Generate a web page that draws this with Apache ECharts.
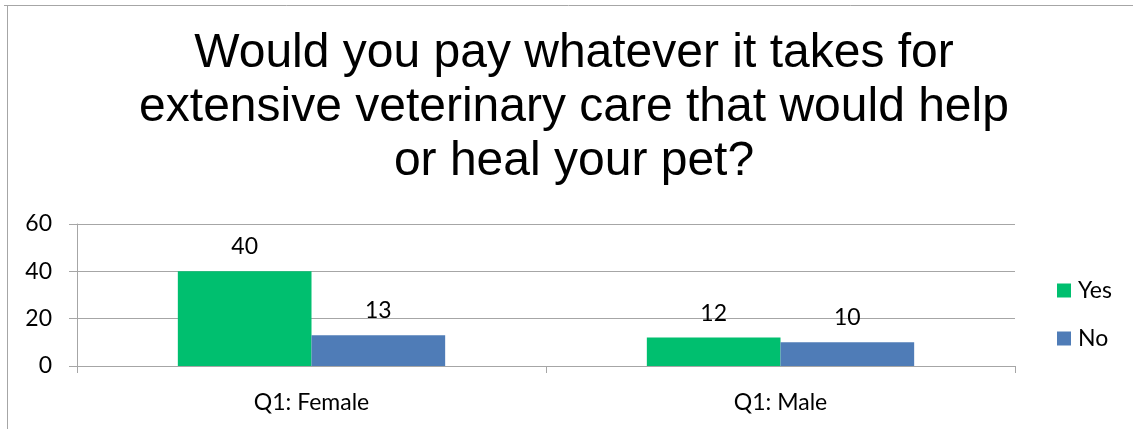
<!DOCTYPE html>
<html>
<head>
<meta charset="utf-8">
<script src="https://cdn.jsdelivr.net/npm/echarts@6/dist/echarts.min.js"></script>
<style>
  html, body { margin: 0; padding: 0; background: #fff; }
  #chart { width: 1133px; height: 429px; }
</style>
</head>
<body>
<div id="chart"></div>
<script>
// Survey answers by respondent group
const categories = ['Q1: Female', 'Q1: Male'];
const yesValues = [40, 12];
const noValues = [13, 10];
const yTicks = [0, 20, 40, 60];

const chart = echarts.init(document.getElementById('chart'));
const labelFont = 'Lato, "Open Sans", sans-serif';
const gridColor = '#a6a6a6';

chart.setOption({
  animation: false,
  backgroundColor: '#ffffff',
  title: {
    text: 'Would you pay whatever it takes for\nextensive veterinary care that would help\nor heal your pet?',
    left: 574,
    textAlign: 'center',
    top: 27,
    padding: 0,
    textStyle: {
      fontFamily: '"Liberation Sans", Arial, sans-serif',
      fontSize: 48,
      fontWeight: 'normal',
      color: '#000',
      lineHeight: 54
    }
  },
  graphic: [
    { type: 'line', shape: { x1: 4, y1: 5.5, x2: 1133, y2: 5.5 }, style: { stroke: gridColor, lineWidth: 1 } },
    { type: 'line', shape: { x1: 7.5, y1: 5, x2: 7.5, y2: 429 }, style: { stroke: gridColor, lineWidth: 1 } }
  ],
  legend: {
    orient: 'vertical',
    left: 1057,
    top: 279,
    padding: 0,
    itemWidth: 14,
    itemHeight: 14,
    itemGap: 25,
    icon: 'rect',
    textStyle: { fontFamily: labelFont, fontSize: 23, color: '#000', padding: [0, 0, 0, 2] },
    data: ['Yes', 'No']
  },
  grid: { left: 77, right: 118, top: 224, bottom: 63, containLabel: false },
  xAxis: {
    type: 'category',
    data: categories,
    axisLine: { lineStyle: { color: gridColor, width: 1 } },
    axisTick: { show: true, length: 7, alignWithLabel: false, lineStyle: { color: gridColor } },
    axisLabel: { margin: 25, fontFamily: labelFont, fontSize: 23, color: '#000' }
  },
  yAxis: {
    type: 'value',
    min: yTicks[0],
    max: yTicks[yTicks.length - 1],
    interval: 20,
    axisLine: { show: true, lineStyle: { color: gridColor, width: 1 } },
    axisTick: { show: true, length: 8, lineStyle: { color: gridColor } },
    splitLine: { show: true, lineStyle: { color: gridColor, width: 1 } },
    axisLabel: { margin: 25, fontFamily: labelFont, fontSize: 23, color: '#000' }
  },
  series: [
    {
      name: 'Yes',
      type: 'bar',
      data: yesValues,
      barGap: '0%',
      barCategoryGap: '43%',
      itemStyle: { color: '#00bf6f' },
      label: { show: true, position: 'top', distance: 13, fontFamily: labelFont, fontSize: 23, color: '#000' }
    },
    {
      name: 'No',
      type: 'bar',
      data: noValues,
      barGap: '0%',
      barCategoryGap: '43%',
      itemStyle: { color: '#4f7cb7' },
      label: { show: true, position: 'top', distance: 13, fontFamily: labelFont, fontSize: 23, color: '#000' }
    }
  ]
});
</script>
</body>
</html>
